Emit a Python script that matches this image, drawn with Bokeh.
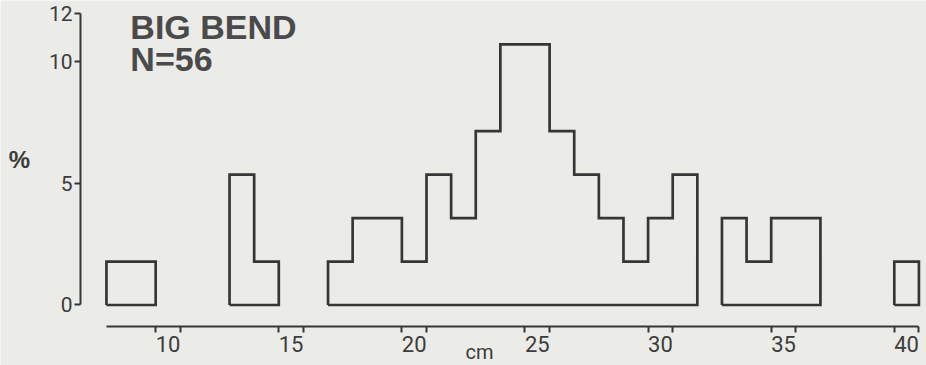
from bokeh.plotting import figure
from bokeh.models import Label, FixedTicker, Range1d
from bokeh.embed import file_html
from bokeh.resources import INLINE

# ---- data ----
size_cm = [8, 9, 13, 14, 17, 18, 19, 20, 21, 22, 23, 24, 25, 26, 27, 28, 29, 30, 31,
           33, 34, 35, 36, 40]
counts = [1, 1, 3, 1, 1, 2, 2, 1, 3, 2, 4, 6, 6, 4, 3, 2, 1, 2, 3,
          2, 1, 2, 2, 1]
n_total = 56
bin_width = 1.0
y_ticks = [0, 5, 10, 12]
x_tick_labels = [10, 15, 20, 25, 30, 35, 40]
title_lines = ["BIG BEND", "N=56"]

percent = [c / n_total * 100 for c in counts]

# group contiguous bins into outlined step shapes
groups = []
cur = []
for x, pc in zip(size_cm, percent):
    if cur and abs(x - cur[-1][0] - bin_width) > 1e-9:
        groups.append(cur)
        cur = []
    cur.append((x, pc))
groups.append(cur)

xs_list, ys_list = [], []
for g in groups:
    left = g[0][0] - bin_width / 2
    right = g[-1][0] + bin_width / 2
    xs = [left]
    ys = [0]
    for x, pc in g:
        xs += [x - bin_width / 2, x + bin_width / 2]
        ys += [pc, pc]
    xs += [right, left]
    ys += [0, 0]
    xs_list.append(xs)
    ys_list.append(ys)

BG = "#ebebe8"
INK = "#363636"
TEXT = "#3c3c3c"
TICK_FONT = "Roboto"

X0, X1 = 3.197, 40.808
Y0, Y1 = -2.487, 12.515
Y_AXIS_AT = 6.446
X_AXIS_AT = -0.884

p = figure(width=926, height=365, output_backend="svg", toolbar_location=None,
           x_range=Range1d(X0, X1), y_range=Range1d(Y0, Y1),
           min_border_left=0, min_border_right=0, min_border_top=0, min_border_bottom=0)
p.background_fill_color = BG
p.border_fill_color = BG
p.outline_line_color = None
p.grid.visible = False

p.multi_line(xs_list, ys_list, line_color=INK, line_width=2.7, line_join="miter")

# y axis
ya = p.yaxis[0]
ya.fixed_location = Y_AXIS_AT
ya.bounds = (0, 12)
ya.ticker = FixedTicker(ticks=y_ticks)
ya.axis_line_color = INK
ya.axis_line_width = 2
ya.major_tick_line_color = INK
ya.major_tick_line_width = 2
ya.major_tick_out = 6
ya.major_tick_in = 0
ya.minor_tick_out = 0
ya.minor_tick_in = 0
ya.major_label_text_font = TICK_FONT
ya.major_label_text_font_size = "21px"
ya.major_label_text_color = TEXT
ya.major_label_standoff = 2

# x axis
xa = p.xaxis[0]
xa.fixed_location = X_AXIS_AT
xa.bounds = (7.5, 40.5)
minor = []
for t in x_tick_labels:
    minor += [t - 0.5, t + 0.5]
xa.ticker = FixedTicker(ticks=x_tick_labels, minor_ticks=minor)
xa.axis_line_color = INK
xa.axis_line_width = 2
xa.major_tick_out = 0
xa.major_tick_in = 0
xa.minor_tick_out = 6
xa.minor_tick_in = 0
xa.minor_tick_line_color = INK
xa.minor_tick_line_width = 2
xa.major_label_text_font = TICK_FONT
xa.major_label_text_font_size = "22px"
xa.major_label_text_color = TEXT
xa.major_label_standoff = 4

# axis titles
p.add_layout(Label(x=3.97, y=5.98, text="%", text_align="center",
                   text_baseline="middle", text_font="Liberation Sans",
                   text_font_style="bold", text_font_size="24px", text_color=TEXT))
p.add_layout(Label(x=22.65, y=-1.95, text="cm", text_align="center",
                   text_baseline="alphabetic", text_font=TICK_FONT,
                   text_font_size="20px", text_color=TEXT))

# title block
p.add_layout(Label(x=8.47, y=11.42, text=title_lines[0], text_align="left",
                   text_baseline="alphabetic", text_font="Liberation Sans",
                   text_font_style="bold", text_font_size="34px", text_color="#4a4a4a"))
p.add_layout(Label(x=8.47, y=10.11, text=title_lines[1], text_align="left",
                   text_baseline="alphabetic", text_font="Liberation Sans",
                   text_font_style="bold", text_font_size="34px", text_color="#4a4a4a"))

open("out.html", "w").write(file_html(p, INLINE))
